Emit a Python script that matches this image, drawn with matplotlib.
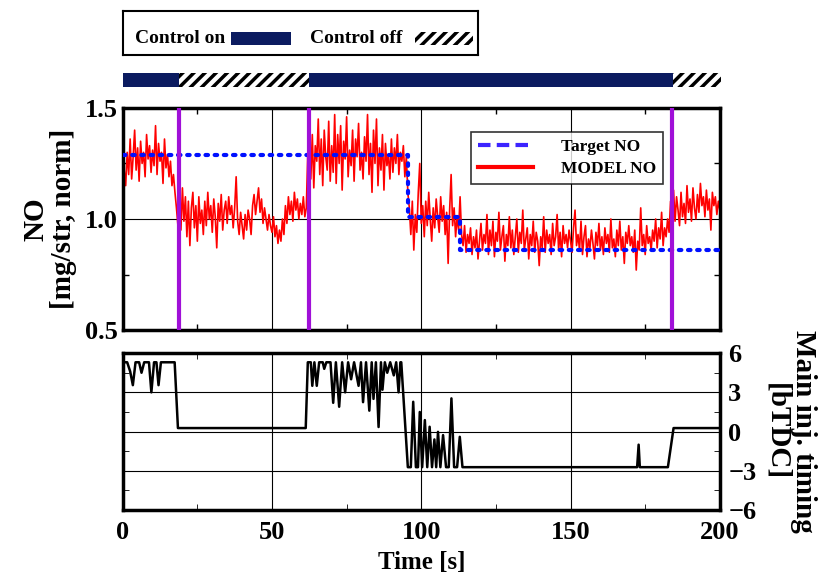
import numpy as np
import matplotlib
matplotlib.use("Agg")
import matplotlib.pyplot as plt
from matplotlib.patches import Rectangle
from matplotlib.lines import Line2D

plt.rcParams['font.family'] = ['Liberation Serif', 'DejaVu Serif']
plt.rcParams['font.weight'] = 'bold'
plt.rcParams['hatch.linewidth'] = 2.5

# model NO, sampled every 0.5 s from 0 to 200 s
no_model = [
    1.08, 1.22, 1.15, 1.30, 1.20, 1.36, 1.18, 1.28, 1.40, 1.22, 1.32, 1.17, 1.35, 1.25, 1.30, 1.19, 1.38, 1.27, 1.33, 1.21,
    1.31, 1.24, 1.42, 1.20, 1.34, 1.26, 1.30, 1.16, 1.36, 1.23, 1.29, 1.19, 1.26, 1.15, 1.20, 1.12, 1.05, 0.97, 1.12, 0.95,
    1.14, 0.99, 1.10, 0.92, 1.08, 0.88, 1.05, 1.12, 0.96, 1.06, 0.90, 1.10, 0.98, 1.04, 0.93, 1.08, 0.97, 1.12, 1.00, 1.06,
    0.94, 1.09, 1.01, 0.87, 1.07, 0.99, 1.11, 0.95, 1.04, 1.08, 0.98, 1.10, 1.02, 1.06, 0.96, 1.05, 1.19, 0.99, 0.93, 1.03,
    0.97, 0.91, 1.02, 0.95, 1.04, 1.00, 0.93, 1.06, 1.11, 1.02, 1.08, 1.14, 1.03, 1.09, 0.98, 1.05, 1.00, 0.95, 1.02, 0.97,
    0.94, 1.01, 0.92, 0.97, 0.89, 0.95, 0.90, 1.00, 0.93, 1.06, 0.98, 1.10, 1.02, 1.08, 0.99, 1.12, 1.04, 1.09, 1.00, 1.07,
    1.02, 1.10, 1.01, 1.05, 1.30, 1.42, 1.18, 1.38, 1.14, 1.33, 1.26, 1.45, 1.20, 1.36, 1.15, 1.40, 1.28, 1.22, 1.44, 1.17,
    1.33, 1.21, 1.47, 1.16, 1.38, 1.25, 1.42, 1.13, 1.35, 1.27, 1.46, 1.19, 1.31, 1.24, 1.40, 1.17, 1.36, 1.28, 1.43, 1.22,
    1.30, 1.18, 1.37, 1.26, 1.47, 1.20, 1.34, 1.12, 1.40, 1.25, 1.45, 1.15, 1.32, 1.22, 1.38, 1.13, 1.34, 1.24, 1.29, 1.18,
    1.36, 1.21, 1.32, 1.25, 1.38, 1.20, 1.30, 1.26, 1.33, 1.19, 1.28, 1.12, 1.05, 0.93, 1.08, 0.86, 1.02, 0.94, 1.12, 1.25,
    0.98, 1.06, 0.92, 1.08, 0.97, 1.12, 1.00, 0.90, 1.05, 0.96, 1.09, 1.01, 0.94, 1.10, 0.99, 1.06, 0.93, 1.03, 0.80, 1.04,
    1.20, 0.97, 1.05, 0.92, 1.01, 0.95, 1.10, 0.93, 0.88, 0.97, 0.85, 0.93, 0.89, 0.96, 0.84, 0.92, 0.87, 0.95, 0.82, 0.90,
    0.98, 0.86, 0.93, 0.89, 1.02, 0.84, 0.95, 0.88, 0.99, 0.83, 0.94, 0.90, 1.03, 0.86, 0.92, 0.97, 0.81, 0.93, 0.88, 1.01,
    0.87, 0.95, 0.84, 0.92, 1.00, 0.85, 0.94, 0.89, 1.04, 0.86, 0.91, 0.96, 0.82, 0.93, 0.88, 0.99, 0.85, 0.94, 0.90, 0.79,
    0.92, 0.87, 1.01, 0.85, 0.95, 0.89, 0.93, 0.84, 0.98, 0.88, 0.92, 1.02, 0.86, 0.94, 0.83, 0.97, 0.89, 0.93, 0.87, 0.95,
    0.90, 0.85, 0.96, 1.04, 0.88, 0.93, 0.86, 0.99, 0.84, 0.92, 0.97, 0.83, 0.91, 0.87, 0.95, 0.89, 0.82, 0.94, 0.88, 0.98,
    0.86, 0.92, 0.84, 0.96, 0.89, 0.93, 0.85, 1.00, 0.87, 0.91, 0.83, 0.95, 0.88, 0.99, 0.86, 0.92, 0.80, 0.94, 0.89, 0.97,
    0.88, 0.92, 0.85, 0.95, 0.77, 0.90, 0.86, 1.05, 0.88, 0.93, 0.84, 0.97, 0.89, 0.92, 0.86, 0.95, 0.90, 1.00, 0.87, 0.96,
    0.91, 1.03, 0.88, 0.96, 0.92, 1.00, 0.94, 1.08, 1.02, 1.13, 0.99, 1.10, 1.04, 0.97, 1.12, 1.01, 1.07, 0.98, 1.15, 1.03,
    1.09, 0.99, 1.14, 1.05, 1.00, 1.11, 1.03, 1.16, 1.06, 1.10, 1.01, 1.13, 1.04, 1.09, 0.95, 1.12, 1.06, 1.10, 1.02, 1.08,
    1.04,
]
t_model = np.arange(len(no_model)) * 0.5

# target NO (step profile)
t_target = [0, 95.5, 95.5, 112.9, 112.9, 200]
no_target = [1.29, 1.29, 1.01, 1.01, 0.86, 0.86]

# switching instants (purple lines) and control on/off intervals
t_switch = [18.8, 62.3, 183.9]
ctrl_on = [(0, 18.8), (62.3, 183.9)]
ctrl_off = [(18.8, 62.3), (183.9, 200)]

# main injection timing [bTDC]
t_inj = [0, 1.5, 2.5, 3.4, 4.3, 5.5, 6.3, 7.2, 8.8, 9.6, 10.5, 11.3, 12.0, 12.8, 17.4, 18.5,
         61.3, 62.0, 63.0, 63.5, 64.2, 65.0, 65.8, 67.0, 67.5, 68.2, 69.6, 70.5, 71.4, 72.5, 73.5,
         74.5, 75.5, 76.5, 77.5, 79.0, 79.8, 80.5, 81.5, 82.6, 83.4, 84.0, 84.8, 85.7, 86.5, 87.0,
         87.8, 88.6, 89.6, 90.8, 91.6, 92.4, 93.0, 93.3,
         95.5, 96.5, 97.3, 98.2, 98.9, 99.5, 100.3, 101.2, 102.0, 102.8, 103.6, 104.4, 105.0,
         105.6, 106.4, 107.3, 108.3, 109.2, 110.1, 111.0, 112.0, 112.9, 113.8,
         172.3, 172.8, 173.2, 182.6, 184.5, 200]
inj_timing = [5.3, 5.3, 4.6, 3.55, 5.3, 5.3, 4.5, 5.3, 5.3, 3.0, 5.3, 5.3, 3.55, 5.3, 5.3, 0.27,
              0.27, 5.3, 5.3, 3.5, 5.3, 3.5, 5.3, 5.3, 4.8, 5.3, 5.3, 2.2, 5.3, 1.9, 5.3,
              3.0, 5.3, 4.0, 5.3, 3.5, 5.3, 2.25, 5.3, 1.6, 5.3, 2.5, 5.3, 0.35, 5.3, 3.2,
              5.3, 4.5, 5.3, 4.3, 5.3, 3.0, 5.3, 5.3,
              -2.72, -2.72, 2.28, -2.72, -2.72, 1.5, -2.72, 0.88, -2.72, 0.37, -2.72, -0.6, -2.72,
              -0.02, -2.72, -0.27, -2.72, -2.72, 2.54, -2.72, -2.72, -0.4, -2.72,
              -2.72, -1.0, -2.72, -2.72, 0.27, 0.27]

navy = '#0b1b60'
purple = '#a010d8'

fig = plt.figure(figsize=(8.18, 5.77), dpi=100)

# ---- top legend box ----
ax_leg = fig.add_axes([0.150, 0.905, 0.434, 0.076])
ax_leg.set_xlim(0, 355)
ax_leg.set_ylim(0, 44)
ax_leg.set_xticks([])
ax_leg.set_yticks([])
for s in ax_leg.spines.values():
    s.set_linewidth(1.5)
ax_leg.text(12, 16, 'Control on', fontsize=14, fontweight='bold', va='center')
ax_leg.add_patch(Rectangle((108, 10), 60, 13, facecolor=navy, edgecolor='none'))
ax_leg.text(187, 16, 'Control off', fontsize=14, fontweight='bold', va='center')
ax_leg.add_patch(Rectangle((292, 10), 58, 13, facecolor='white', edgecolor='black',
                           hatch='///', linewidth=0))

# ---- control on/off bar ----
ax_bar = fig.add_axes([0.150, 0.849, 0.732, 0.024])
ax_bar.set_xlim(0, 200)
ax_bar.set_ylim(0, 1)
ax_bar.axis('off')
for a, b in ctrl_on:
    ax_bar.add_patch(Rectangle((a, 0), b - a, 1, facecolor=navy, edgecolor='none'))
for a, b in ctrl_off:
    ax_bar.add_patch(Rectangle((a, 0), b - a, 1, facecolor='white', edgecolor='black',
                               hatch='///', linewidth=0))

# ---- NO plot ----
ax1 = fig.add_axes([0.150, 0.428, 0.730, 0.385])
ax1.plot(t_model, no_model, color='red', lw=1.2, zorder=2)
ax1.plot(t_target, no_target, color='#0010ff', lw=3, ls=(0, (0.6, 1.6)),
         dash_capstyle='round', zorder=3)
for ts in t_switch:
    ax1.axvline(ts, color=purple, lw=3, zorder=4)
ax1.set_xlim(0, 200)
ax1.set_ylim(0.5, 1.5)
ax1.set_xticks([0, 50, 100, 150, 200])
ax1.set_xticks([25, 75, 125, 175], minor=True)
ax1.set_yticks([0.5, 1.0, 1.5])
ax1.set_yticks([0.75, 1.25], minor=True)
ax1.set_yticklabels(['0.5', '1.0', '1.5'])
ax1.tick_params(axis='x', labelbottom=False)
ax1.tick_params(which='both', direction='in', top=True, right=True, labelsize=19, width=1)
ax1.tick_params(which='major', length=0)
ax1.tick_params(which='minor', length=4)
ax1.grid(True, which='major', color='black', lw=0.8)
for s in ax1.spines.values():
    s.set_linewidth(2.5)
ax1.set_ylabel('NO\n[mg/str, norm]', fontsize=21, fontweight='bold', labelpad=6,
               linespacing=1.0)

handles = [Line2D([], [], color='#3c24ff', lw=3, ls=(0, (3, 1.5))),
           Line2D([], [], color='red', lw=3)]
leg = ax1.legend(handles, ['Target NO', 'MODEL NO'], loc='upper right',
                 bbox_to_anchor=(0.92, 0.93), fontsize=12.5, frameon=True, fancybox=False,
                 handlelength=3.2, borderpad=0.4, labelspacing=0.3, handletextpad=1.6)
leg.get_frame().set_edgecolor('black')
leg.get_frame().set_linewidth(1.2)

# ---- injection timing plot ----
ax2 = fig.add_axes([0.150, 0.116, 0.730, 0.272])
ax2.plot(t_inj, inj_timing, color='black', lw=1.8)
ax2.set_xlim(0, 200)
ax2.set_ylim(-6, 6)
ax2.set_xticks([0, 50, 100, 150, 200])
ax2.set_xticks([25, 75, 125, 175], minor=True)
ax2.set_yticks([-6, -3, 0, 3, 6])
ax2.set_yticks([-4.5, -1.5, 1.5, 4.5], minor=True)
ax2.yaxis.tick_right()
ax2.tick_params(which='both', direction='in', left=True, right=True, top=True, labelsize=19)
ax2.tick_params(which='major', length=0, pad=6)
ax2.tick_params(axis='x', which='major', pad=8)
ax2.tick_params(which='minor', length=4)
ax2.grid(True, which='major', color='black', lw=0.8)
for s in ax2.spines.values():
    s.set_linewidth(2.5)
ax2.set_xlabel('Time [s]', fontsize=18, fontweight='bold', labelpad=5)
ax2.yaxis.set_label_position('right')
ax2.set_ylabel('Main inj. timing\n[bTDC]', fontsize=21, fontweight='bold',
               rotation=-90, labelpad=44, linespacing=1.0)

fig.savefig('out.png', dpi=100)
